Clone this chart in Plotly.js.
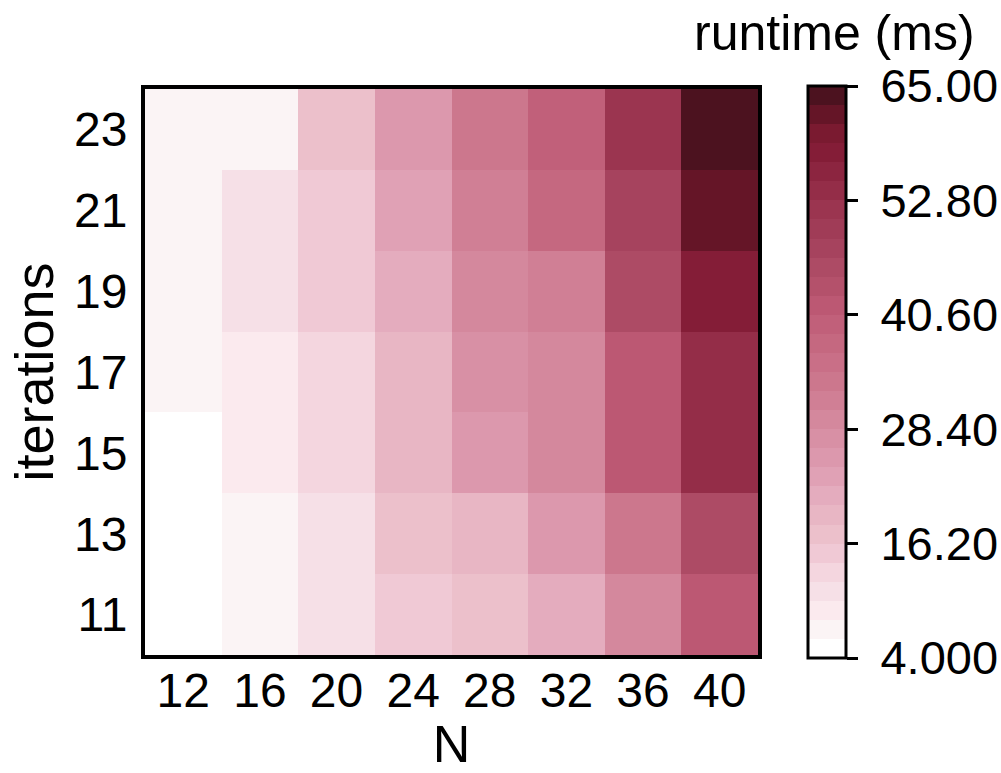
<!DOCTYPE html>
<html>
<head>
<meta charset="utf-8">
<script src="https://cdn.plot.ly/plotly-3.0.1.min.js"></script>
<style>html,body{margin:0;padding:0;background:#fff;}#chart{width:1001px;height:773px;}</style>
</head>
<body>
<div id="chart"></div>
<script>
// Data
var N = [12, 16, 20, 24, 28, 32, 36, 40];
var iterations = [11, 13, 15, 17, 19, 21, 23];
var runtime_it11 = [4.5, 7.1, 11.1, 15.2, 17.2, 21.3, 29.4, 41.6];
var runtime_it13 = [4.6, 7.0, 11.2, 17.3, 19.3, 25.4, 33.5, 45.7];
var runtime_it15 = [4.4, 9.1, 13.2, 19.2, 25.3, 29.4, 41.6, 53.8];
var runtime_it17 = [7.2, 9.0, 13.1, 19.4, 27.4, 29.5, 41.7, 53.9];
var runtime_it19 = [7.1, 11.1, 15.1, 21.3, 29.4, 31.5, 45.7, 57.9];
var runtime_it21 = [7.0, 11.0, 15.2, 23.3, 31.4, 37.6, 48.6, 62.0];
var runtime_it23 = [6.9, 7.1, 17.2, 25.4, 33.5, 39.6, 51.8, 65.0];
var cbTickVals = [4, 16.2, 28.4, 40.6, 52.8, 65];
var cbTickText = ['4.000', '16.20', '28.40', '40.60', '52.80', '65.00'];
var bandColors = ['#ffffff','#fbf4f5','#fbeaee','#f6e0e7','#f4d6df','#f0c9d5','#ecc0cb','#e8b6c4',
  '#e4acbe','#e0a1b5','#dc98ad','#d890a5','#d4889d','#d07f95','#cc778d','#c96f87','#c56880',
  '#c1607a','#bc5873','#b4516b','#ad4b65','#a6435e','#a03c57','#9b3550','#942d48','#8c2540',
  '#841d37','#7a1a30','#651527','#4c121f'];

var z = [runtime_it11, runtime_it13, runtime_it15, runtime_it17, runtime_it19, runtime_it21, runtime_it23];
var nb = bandColors.length;
var colorscale = [];
for (var i = 0; i < nb; i++) {
  colorscale.push([i / nb, bandColors[i]]);
  colorscale.push([(i + 1) / nb, bandColors[i]]);
}

var FONT = 'Liberation Sans, Arial, sans-serif';
var plotL = 145, plotR = 243, plotT = 89, plotB = 118;
var plotW = 1001 - plotL - plotR;

var trace = {
  type: 'heatmap',
  x: N, y: iterations, z: z,
  zmin: 4, zmax: 65,
  colorscale: colorscale,
  xgap: 0, ygap: 0,
  colorbar: {
    x: (808 - plotL) / plotW, xanchor: 'left', xpad: 0,
    y: 0.5, yanchor: 'middle', len: 1.01, lenmode: 'fraction', ypad: 0,
    thickness: 38, thicknessmode: 'pixels',
    outlinewidth: 3, outlinecolor: '#000',
    tickmode: 'array', tickvals: cbTickVals,
    ticktext: cbTickText.map(function (t) { return '\u00a0' + t; }),
    ticks: 'outside', ticklen: 11, tickwidth: 3, tickcolor: '#000',
    tickfont: {family: FONT, size: 47, color: '#000'}
  }
};

var layout = {
  width: 1001, height: 773,
  margin: {l: plotL, r: plotR, t: plotT, b: plotB, pad: 0, autoexpand: false},
  paper_bgcolor: '#fff', plot_bgcolor: '#fff',
  font: {family: FONT, color: '#000'},
  xaxis: {
    tickmode: 'array', tickvals: N, ticktext: N.map(String),
    tickfont: {family: FONT, size: 48, color: '#000'},
    ticks: '', ticklabelstandoff: -10,
    showline: true, linewidth: 4, linecolor: '#000', mirror: true,
    showgrid: false, zeroline: false,
    title: {text: 'N', font: {family: FONT, size: 52, color: '#000'}, standoff: 10}
  },
  yaxis: {
    tickmode: 'array', tickvals: iterations, ticktext: iterations.map(String),
    tickfont: {family: FONT, size: 48, color: '#000'},
    ticks: '', ticklabelstandoff: 4,
    showline: true, linewidth: 4, linecolor: '#000', mirror: true,
    showgrid: false, zeroline: false,
    title: {text: 'iterations', font: {family: FONT, size: 54, color: '#000'}, standoff: 4}
  },
  annotations: [{
    text: 'runtime (ms)', xref: 'paper', yref: 'paper',
    x: (834 - plotL) / plotW, y: 1, xanchor: 'center', yanchor: 'bottom', yshift: 26,
    showarrow: false, font: {family: FONT, size: 50, color: '#000'}
  }]
};

Plotly.newPlot('chart', [trace], layout, {displayModeBar: false, staticPlot: true});
</script>
</body>
</html>
